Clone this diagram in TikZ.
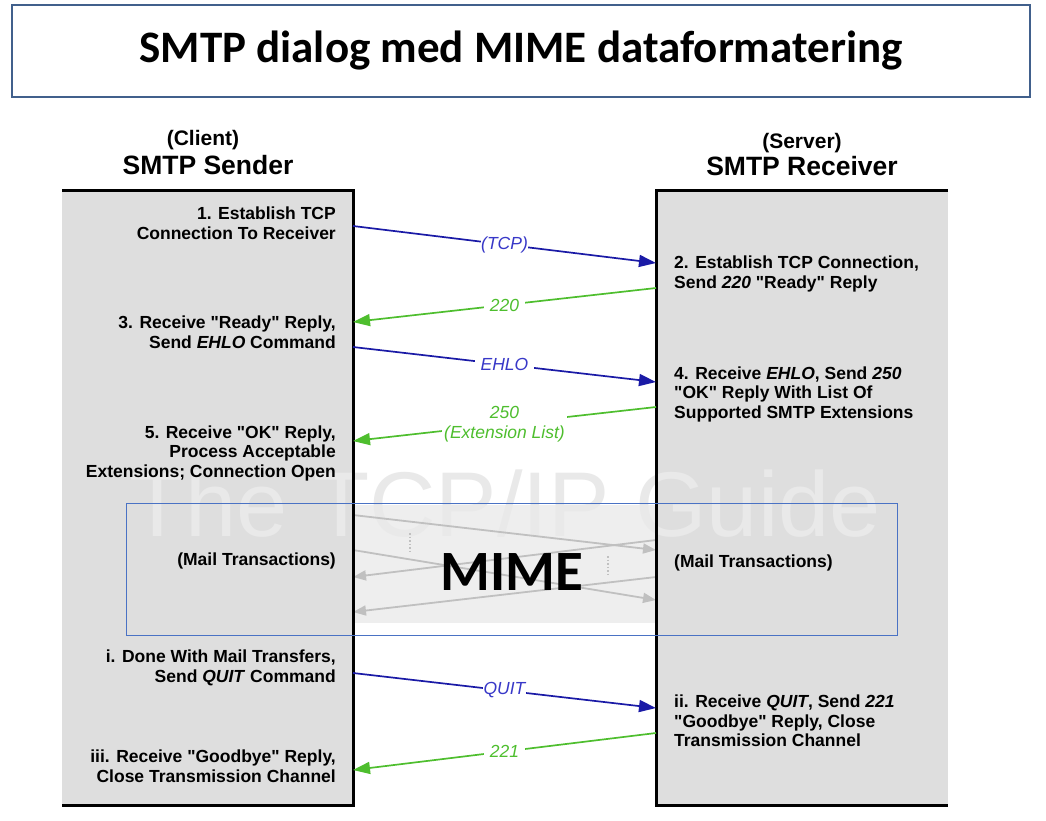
\documentclass[tikz,border=0pt]{standalone}
\usepackage{fontspec}
\setmainfont{Liberation Sans}[Ligatures=TeXOff]
\newfontfamily\titlefont{Carlito}
\usetikzlibrary{arrows.meta}

\definecolor{colgray}{RGB}{222,222,222}
\definecolor{bandgray}{RGB}{238,238,238}
\definecolor{markgray}{RGB}{233,233,233}
\definecolor{ghostgray}{RGB}{192,192,192}
\definecolor{sendblue}{RGB}{26,26,166}
\definecolor{labelblue}{RGB}{56,56,200}
\definecolor{replygreen}{RGB}{78,190,46}
\definecolor{frameblue}{RGB}{65,96,140}
\definecolor{mimeblue}{RGB}{74,114,196}

\begin{document}
\begin{tikzpicture}[x=1pt, y=-1pt,
    stage/.style={inner sep=0pt, font=\fontsize{17.5}{19.5}\selectfont\bfseries},
    stage left/.style={stage, anchor=east, align=right},
    stage right/.style={stage, anchor=west, align=left},
    msg/.style={fill=white, inner sep=2pt, align=center, font=\fontsize{17.5}{19.5}\selectfont\itshape},
    send/.style={sendblue, line width=1.7pt, -{Triangle[length=17pt,width=12pt]}},
    reply/.style={replygreen, line width=1.7pt, -{Triangle[length=17pt,width=12pt]}},
    ghost/.style={ghostgray, line width=1.8pt, -{Triangle[length=13pt,width=10pt]}},
    edge line/.style={line width=3pt, black}]
    \useasboundingbox (0,0) rectangle (1046,820);

    % title
    \draw[frameblue, line width=2.5pt] (12,5) rectangle (1030,97);
    \node (title) at (521,51) {\titlefont\bfseries\fontsize{45}{52}\selectfont SMTP dialog med MIME dataformatering};

    % the two sides
    \fill[colgray] (62,190) rectangle (353,805);
    \fill[colgray] (656,190) rectangle (948,805);
    \fill[bandgray] (353,505) rectangle (656,623);
    \node (mark) [anchor=base, inner sep=0pt, text depth=0pt, text=markgray] at (505,536) {\fontsize{92}{92}\selectfont The TCP/IP Guide};

    % faded mail transactions
    \coordinate (ga1) at (353,515); \coordinate (gb1) at (656,550);
    \coordinate (ga2) at (353,550); \coordinate (gb2) at (656,600);
    \coordinate (gb3) at (656,540); \coordinate (ga3) at (353,577);
    \coordinate (gb4) at (656,577); \coordinate (ga4) at (353,612);
    \draw[ghost] (ga1) -- (gb1);
    \draw[ghost] (ga2) -- (gb2);
    \draw[ghost] (gb3) -- (ga3);
    \draw[ghost] (gb4) -- (ga4);
    \draw[ghostgray, line width=1.5pt, dotted] (410,533) -- (410,551);
    \draw[ghostgray, line width=1.5pt, dotted] (608,556) -- (608,574);

    \draw[edge line] (62,190) -- (353,190) -- (353,805) -- (62,805);
    \draw[edge line] (948,190) -- (656,190) -- (656,805) -- (948,805);

    \draw[mimeblue, line width=1pt] (126,503) rectangle (897,635);

    % headings
    \node (client) at (203,140) {\fontsize{21}{24}\selectfont\bfseries (Client)};
    \node (sender) at (208,165) {\fontsize{26.5}{30}\selectfont\bfseries SMTP Sender};
    \node (server) at (802,143) {\fontsize{21}{24}\selectfont\bfseries (Server)};
    \node (receiver) at (802,166) {\fontsize{26.5}{30}\selectfont\bfseries SMTP Receiver};

    % sender steps
    \node (s1) [stage left] at (336,223) {1. Establish TCP\\Connection To Receiver};
    \node (s3) [stage left] at (336,332) {3. Receive "Ready" Reply,\\Send \textit{EHLO} Command};
    \node (s5) [stage left] at (336,453) {5. Receive "OK" Reply,\\Process Acceptable\\Extensions; Connection Open};
    \node (smail) [stage left] at (336,561) {(Mail Transactions)};
    \node (si) [stage left] at (336,668) {i. Done With Mail Transfers,\\Send \textit{QUIT} Command};
    \node (siii) [stage left] at (336,766) {iii. Receive "Goodbye" Reply,\\Close Transmission Channel};

    % receiver steps
    \node (r2) [stage right] at (674,274) {2. Establish TCP Connection,\\Send \textit{220} "Ready" Reply};
    \node (r4) [stage right] at (674,394) {4. Receive \textit{EHLO}, Send \textit{250}\\"OK" Reply With List Of\\Supported SMTP Extensions};
    \node (rmail) [stage right] at (674,563) {(Mail Transactions)};
    \node (rii) [stage right] at (674,721) {ii. Receive \textit{QUIT}, Send \textit{221}\\"Goodbye" Reply, Close\\Transmission Channel};

    % message ends on the two edges
    \coordinate (tcp out) at (353,226);  \coordinate (tcp in) at (656,263);
    \coordinate (ready out) at (656,288); \coordinate (ready in) at (353,322);
    \coordinate (ehlo out) at (353,347); \coordinate (ehlo in) at (656,382);
    \coordinate (ok out) at (656,407);   \coordinate (ok in) at (353,441);
    \coordinate (quit out) at (353,673); \coordinate (quit in) at (656,708);
    \coordinate (bye out) at (656,733);  \coordinate (bye in) at (353,770);

    \draw[send] (tcp out) -- (tcp in) node[midway, msg, text=labelblue, inner sep=0.5pt] {(TCP)};
    \draw[reply] (ready out) -- (ready in) node[midway, msg, text=replygreen, inner sep=6pt] {220};
    \draw[send] (ehlo out) -- (ehlo in) node[midway, msg, text=labelblue, inner sep=6pt] {EHLO};
    \draw[reply] (ok out) -- (ok in) node[midway, msg, text=replygreen] {250\\(Extension List)};
    \draw[send] (quit out) -- (quit in) node[midway, msg, text=labelblue, inner sep=0.5pt] {QUIT};
    \draw[reply] (bye out) -- (bye in) node[midway, msg, text=replygreen, inner sep=6pt] {221};

    \node (mime) at (512,572) {\titlefont\bfseries\fontsize{57}{64}\selectfont MIME};
\end{tikzpicture}
\end{document}
